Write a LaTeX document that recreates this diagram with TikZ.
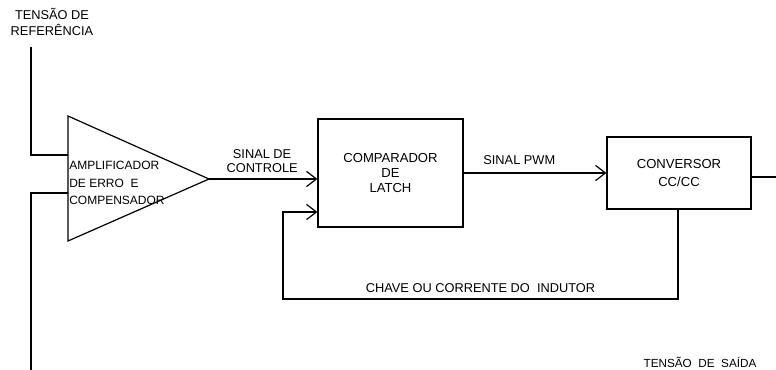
\documentclass[tikz,border=0pt]{standalone}
\usepackage{fontspec}
\setmainfont{Liberation Sans}
\usetikzlibrary{arrows.meta}
\tikzset{
  blk/.style={draw, line width=0.9pt, minimum width=108.75pt, minimum height=81pt, font=\fontsize{9.8}{11.6}\selectfont, align=center},
  lbl/.style={font=\fontsize{9.6}{10.5}\selectfont, align=center, inner sep=0pt},
  wire/.style={line width=0.9pt},
  flow/.style={wire, -{Straight Barb[length=2.6mm, width=4mm, line width=0.9pt]}},
}
\begin{document}
\begin{tikzpicture}[x=0.75pt, y=-0.75pt]
    \useasboundingbox (0,0) rectangle (776,370);
    % amplifier triangle
    \draw[wire] (68,116) -- (209,179) -- (68,241) -- cycle;
    \coordinate (amptip) at (209,179);
    \coordinate (ampin1) at (68,155);
    \coordinate (ampin2) at (68,193);
    \node[lbl, anchor=west, align=left, font=\fontsize{9}{13}\selectfont] (amp) at (69,183) {AMPLIFICADOR\\DE ERRO\ \ E\\COMPENSADOR};
    \node[blk] (comp) at (390.5,173) {COMPARADOR\\DE\\LATCH};
    \node[blk, minimum width=108pt, minimum height=54pt, font=\fontsize{9.8}{12.8}\selectfont] (conv) at (679,173) {CONVERSOR\\CC/CC};
    \coordinate (reftop) at (31,47);
    \coordinate (outbot) at (31,370);
    \coordinate (outend) at (776,177);
    \coordinate (fbdown) at (678,299);
    \coordinate (fbleft) at (283,299);
    \node[lbl, font=\fontsize{9.6}{12}\selectfont] (reflbl) at (52,22) {TENSÃO DE\\REFERÊNCIA};
    \node[lbl, font=\fontsize{8.8}{10}\selectfont] (outlbl) at (700,362) {TENSÃO\ \ DE\ \ SAÍDA};
    \draw[wire] (reftop) |- (ampin1);
    \draw[wire] (outbot) |- (ampin2);
    \draw[flow] (amptip) -- (comp.west |- amptip) node[lbl, pos=0.49, above=4pt]{SINAL DE\\CONTROLE};
    \draw[flow] (comp.east |- 0,173) -- (conv.west |- 0,173) node[lbl, pos=0.39, above=6pt]{SINAL PWM};
    \draw[wire] (conv.east |- outend) -- (outend);
    \draw[flow] (conv.south -| fbdown) -- (fbdown) -- (fbleft) node[lbl, midway, above=4pt]{CHAVE OU CORRENTE DO\ \ INDUTOR} |- (comp.west |- 0,212);
  \end{tikzpicture}
\end{document}
